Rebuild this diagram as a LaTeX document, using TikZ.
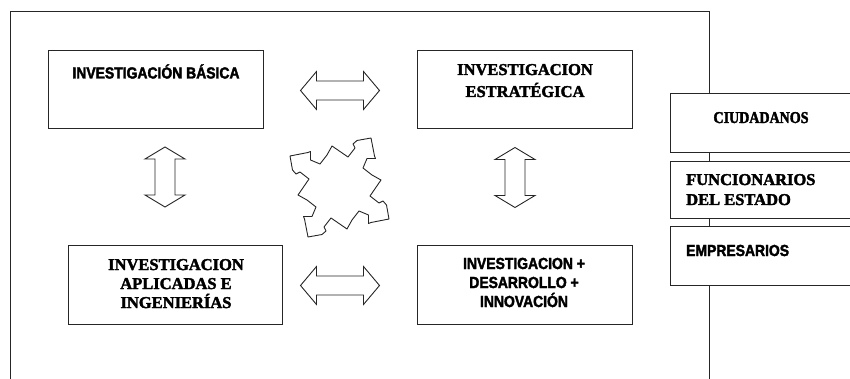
\documentclass[tikz,border=0pt]{standalone}
\usepackage{fontspec}
\newfontfamily\lsans{Liberation Sans}[BoldFeatures={FakeBold=2.2, FakeStretch=0.87}]
\newfontfamily\lserif{Liberation Serif}[BoldFeatures={FakeBold=2.2}]
\newfontfamily\lserifc{Liberation Serif}[BoldFeatures={FakeBold=2.2, FakeStretch=0.85}]

\tikzset{
  hdarrow/.pic={
    \draw[blockline] (-39.5,0) -- (-23.5,-19) -- (-23.5,-9.5) -- (23.5,-9.5) -- (23.5,-19)
      -- (39.5,0) -- (23.5,19) -- (23.5,9.5) -- (-23.5,9.5) -- (-23.5,19) -- cycle;
  },
  vdarrow/.pic={
    \draw[blockline] (0,-30) -- (20,-18) -- (10,-18) -- (10,18) -- (20,18)
      -- (0,30) -- (-20,18) -- (-10,18) -- (-10,-18) -- (-20,-18) -- cycle;
  }
}

\begin{document}
\begin{tikzpicture}[x=1pt, y=-1pt,
    box/.style={draw=black!85, line width=1pt, fill=white, inner sep=0pt, outer sep=0pt,
                minimum width=215pt, minimum height=78pt},
    sidebox/.style={box, anchor=north west, minimum width=200pt},
    blockline/.style={draw=black!85, line width=0.9pt, line join=miter},
    lblsans/.style={font=\lsans\bfseries\fontsize{16}{19}\selectfont, align=center, inner sep=0pt},
    lblserif/.style={font=\lserif\bfseries\fontsize{16.5}{20}\selectfont, align=center, inner sep=0pt}
  ]
    \useasboundingbox (0,0) rectangle (850,379);
    \clip (0,0) rectangle (850,379);

    % outer frame, open at the bottom
    \draw[draw=black!85, line width=1pt] (10,390) -- (10,12) -- (709,12) -- (709,390);

    % the four research boxes
    \node[box] (basica) at (155.5,90) {};
    \node[box] (estrat) at (524.5,90) {};
    \node[box, minimum width=214pt, minimum height=79pt] (aplic) at (175,284.5) {};
    \node[box, minimum height=79pt] (idi) at (524.5,284.5) {};

    % (base of a multi-line label = its last line)
    \node[lblsans, anchor=base] (basica-t) at (156,78.5) {INVESTIGACIÓN BÁSICA};
    \node[lblserif, anchor=base, font=\lserif\bfseries\fontsize{16.5}{22}\selectfont]
      (estrat-t) at (525,97) {INVESTIGACION\\ESTRATÉGICA};
    \node[lblserif, anchor=base, font=\lserif\bfseries\fontsize{16.5}{19}\selectfont]
      (aplic-t) at (176,308) {INVESTIGACION\\APLICADAS E\\INGENIERÍAS};
    \node[lblsans, anchor=base] (idi-t) at (524,307) {INVESTIGACION +\\DESARROLLO +\\INNOVACIÓN};

    % side boxes
    \node[sidebox, minimum height=59pt] (ciud) at (670,94) {};
    \node[sidebox, minimum height=57pt] (func) at (670,162) {};
    \node[sidebox, minimum height=59pt] (empr) at (670,226) {};

    \node[lblserif, anchor=base, font=\lserifc\bfseries\fontsize{16.5}{17}\selectfont]
      (ciud-t) at (761,123) {CIUDADANOS};
    \node[lblserif, anchor=base west, align=left] (func-t) at (686,205) {FUNCIONARIOS\\DEL ESTADO};
    \node[lblsans, anchor=base west] (empr-t) at (686,256) {EMPRESARIOS};

    % block arrows
    \pic at (340,90.5) {hdarrow};
    \pic at (340,285.5) {hdarrow};
    \pic at (165,177) {vdarrow};
    \pic at (515,177.5) {vdarrow};

    % jagged four-way arrow in the middle
    \begin{scope}[shift={(339.5,187.5)}]
      \draw[blockline, line join=round] (-49.5,-31.5)
        \foreach \r in {0,-90,-180,-270}{
          \foreach \x/\y in {-31.5/-35, -29/-36, -29/-27.5, -19.5/-23.5, -12.5/-32.5,
                             -7.5/-41.5, 8.5/-30.5, 15.5/-39.5, 13.5/-43.5, 17.5/-47, 31.5/-49.5}{
            -- ([rotate=\r]\x,\y)
          }
        } -- cycle;
    \end{scope}
\end{tikzpicture}
\end{document}
